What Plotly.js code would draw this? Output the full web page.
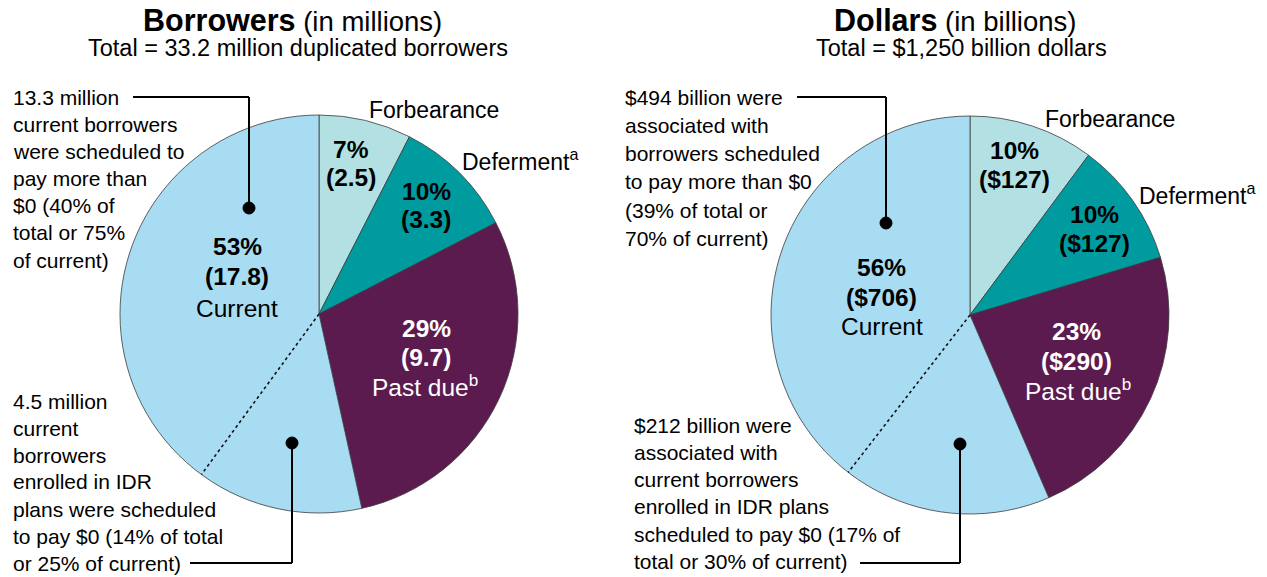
<!DOCTYPE html>
<html>
<head>
<meta charset="utf-8">
<script src="https://cdn.plot.ly/plotly-3.0.1.min.js"></script>
<style>
  html, body { margin: 0; padding: 0; background: #fff; }
  #chart { width: 1267px; height: 577px; }
</style>
</head>
<body>
<div id="chart"></div>
<script>
// slices, clockwise from 12 o'clock
var categories = ['Forbearance', 'Deferment', 'Past due', 'Current'];
var sliceColors = ['#b2e0e3', '#009b9f', '#5b1b4f', '#a7dcf3'];

// borrowers (in millions)
var borrowers = [2.5, 3.3, 9.7, 17.8];
var borrowersPct = ['7%', '10%', '29%', '53%'];
var borrowersCurrentZero = 4.5;    // current, scheduled to pay $0
var borrowersCurrentMore = 13.3;   // current, scheduled to pay more than $0

// dollars (in billions)
var dollars = [127, 127, 290, 706];
var dollarsPct = ['10%', '10%', '23%', '56%'];
var dollarsCurrentZero = 212;
var dollarsCurrentMore = 494;

var W = 1267, H = 577;
function px(x) { return x / W; }
function py(y) { return 1 - y / H; }

var font = 'Liberation Sans, Arial, sans-serif';

// pie boxes in pixels (left, top, size)
var leftBox = {x: 120, y: 115, s: 398};
var rightBox = {x: 771, y: 116, s: 398};

function pieTrace(values, box) {
    return {
        type: 'pie',
        labels: categories,
        values: values,
        sort: false,
        direction: 'clockwise',
        rotation: 0,
        textinfo: 'none',
        hoverinfo: 'label+value',
        marker: {colors: sliceColors, line: {color: '#3c3c3c', width: 0.8}},
        domain: {x: [px(box.x), px(box.x + box.s)], y: [py(box.y + box.s), py(box.y)]},
        showlegend: false
    };
}

// angle of the split inside "Current" ($0 part comes first, clockwise)
function splitPoint(values, zeroPart) {
    var total = values.reduce(function(a, b) { return a + b; }, 0);
    var before = values[0] + values[1] + values[2] + zeroPart;
    var t = 2 * Math.PI * before / total;
    return [Math.sin(t), Math.cos(t)];
}
var leftSplit = splitPoint(borrowers, borrowersCurrentZero);
var rightSplit = splitPoint(dollars, dollarsCurrentZero);

var data = [
    pieTrace(borrowers, leftBox),
    pieTrace(dollars, rightBox),
    // invisible helpers so the unit axes exist over each pie
    {type: 'scatter', x: [0, leftSplit[0]], y: [0, leftSplit[1]], mode: 'lines',
     line: {width: 0}, hoverinfo: 'skip', showlegend: false, xaxis: 'x', yaxis: 'y'},
    {type: 'scatter', x: [0, rightSplit[0]], y: [0, rightSplit[1]], mode: 'lines',
     line: {width: 0}, hoverinfo: 'skip', showlegend: false, xaxis: 'x2', yaxis: 'y2'}
];

var annotations = [];
function addText(text, x, y, size, opts) {
    opts = opts || {};
    annotations.push({
        text: text, xref: 'paper', yref: 'paper',
        x: px(x), y: py(y),
        xanchor: opts.anchor || 'center', yanchor: 'middle',
        align: opts.anchor || 'center',
        showarrow: false,
        font: {family: font, size: size, color: opts.color || '#000'}
    });
}
function addLines(lines, x, y0, step, size) {
    lines.forEach(function(line, i) {
        addText(line, x, y0 + i * step, size, {anchor: 'left'});
    });
}

// titles
addText('<span style="font-size:30.5px"><b>Borrowers</b></span> (in millions)', 292, 20, 27.5);
addText('Total = 33.2 million duplicated borrowers', 298, 48, 23.5);
addText('<span style="font-size:30.5px"><b>Dollars</b></span> (in billions)', 955, 20, 27.5);
addText('Total = $1,250 billion dollars', 961, 48, 23.5);

// slice labels, left pie
var bLabelPos = [[351, 149, 177], [426, 191, 219], [426, 328, 357], [237, 247, 276]];
borrowers.forEach(function(v, i) {
    var c = i === 2 ? '#fff' : '#000';
    addText('<b>' + borrowersPct[i] + '</b>', bLabelPos[i][0], bLabelPos[i][1], 24.5, {color: c});
    addText('<b>(' + v + ')</b>', bLabelPos[i][0], bLabelPos[i][2], 24.5, {color: c});
});
addText('Current', 237, 308, 24.5);
addText('Past due<sup>b</sup>', 425, 385, 24.5, {color: '#fff'});
addText('Forbearance', 367, 110, 23, {anchor: 'left'});
addText('Deferment<sup>a</sup>', 460, 160, 23, {anchor: 'left'});

// slice labels, right pie
var dLabelPos = [[1015, 150, 179], [1094, 214, 243], [1076, 331, 361], [881, 267, 297]];
dollars.forEach(function(v, i) {
    var c = i === 2 ? '#fff' : '#000';
    addText('<b>' + dollarsPct[i] + '</b>', dLabelPos[i][0], dLabelPos[i][1], 24.5, {color: c});
    addText('<b>($' + v + ')</b>', dLabelPos[i][0], dLabelPos[i][2], 24.5, {color: c});
});
addText('Current', 882, 326, 24.5);
addText('Past due<sup>b</sup>', 1078, 389, 24.5, {color: '#fff'});
addText('Forbearance', 1043, 119, 23, {anchor: 'left'});
addText('Deferment<sup>a</sup>', 1137, 194, 23, {anchor: 'left'});

// callouts
addLines([borrowersCurrentMore + ' million', 'current borrowers', 'were scheduled to',
          'pay more than', '$0 (40% of', 'total or 75%', 'of current)'], 11, 97, 27.2, 21);
addLines([borrowersCurrentZero + ' million', 'current', 'borrowers', 'enrolled in IDR',
          'plans were scheduled', 'to pay $0 (14% of total', 'or 25% of current)'], 11, 401, 27, 21);
addLines(['$' + dollarsCurrentMore + ' billion were', 'associated with', 'borrowers scheduled',
          'to pay more than $0', '(39% of total or', '70% of current)'], 623, 97, 28.3, 21);
addLines(['$' + dollarsCurrentZero + ' billion were', 'associated with', 'current borrowers',
          'enrolled in IDR plans', 'scheduled to pay $0 (17% of', 'total or 30% of current)'], 632, 425, 27.3, 21);

var shapes = [];
function leader(x0, y0, xc, yc) {
    shapes.push({type: 'line', xref: 'paper', yref: 'paper', x0: px(x0), y0: py(y0), x1: px(xc), y1: py(y0),
                 line: {color: '#000', width: 2}});
    shapes.push({type: 'line', xref: 'paper', yref: 'paper', x0: px(xc), y0: py(y0), x1: px(xc), y1: py(yc),
                 line: {color: '#000', width: 2}});
    shapes.push({type: 'circle', xref: 'paper', yref: 'paper', x0: px(xc - 6), x1: px(xc + 6),
                 y0: py(yc + 6), y1: py(yc - 6), fillcolor: '#000', line: {color: '#000', width: 1}, layer: 'above'});
}
leader(133, 97, 249, 208);
leader(190, 563, 292, 443);
leader(797, 97, 886, 223);
leader(860, 563, 960, 444);

// dotted split inside "Current"
shapes.push({type: 'line', xref: 'x', yref: 'y', x0: 0, y0: 0, x1: leftSplit[0], y1: leftSplit[1],
             line: {color: '#111', width: 1.6, dash: 'dot'}, layer: 'above'});
shapes.push({type: 'line', xref: 'x2', yref: 'y2', x0: 0, y0: 0, x1: rightSplit[0], y1: rightSplit[1],
             line: {color: '#111', width: 1.6, dash: 'dot'}, layer: 'above'});

function unitAxis(box, horizontal) {
    return {
        domain: horizontal ? [px(box.x), px(box.x + box.s)] : [py(box.y + box.s), py(box.y)],
        range: [-1, 1], visible: false, fixedrange: true
    };
}

var layout = {
    width: W, height: H,
    margin: {l: 0, r: 0, t: 0, b: 0},
    paper_bgcolor: '#fff', plot_bgcolor: 'rgba(0,0,0,0)',
    font: {family: font, color: '#000'},
    showlegend: false,
    xaxis: unitAxis(leftBox, true),
    yaxis: Object.assign(unitAxis(leftBox, false), {anchor: 'x'}),
    xaxis2: Object.assign(unitAxis(rightBox, true), {anchor: 'y2'}),
    yaxis2: Object.assign(unitAxis(rightBox, false), {anchor: 'x2'}),
    annotations: annotations,
    shapes: shapes
};

Plotly.newPlot('chart', data, layout, {displayModeBar: false, staticPlot: true});
</script>
</body>
</html>
